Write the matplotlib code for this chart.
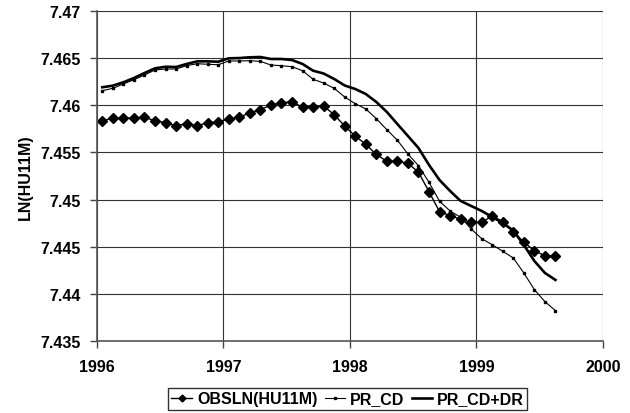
import numpy as np
import matplotlib
matplotlib.use("Agg")
import matplotlib.pyplot as plt

plt.rcParams['font.family'] = ['Liberation Sans', 'DejaVu Sans']
plt.rcParams['font.weight'] = 'bold'

# monthly observations, Jan 1996 .. Aug 1999 (plotted mid-month)
months = np.arange(44)
t = 1996 + (months + 0.5) / 12

obsln = [7.45836, 7.45862, 7.45862, 7.45868, 7.45872, 7.45836, 7.45815, 7.45783,
         7.45805, 7.45783, 7.45815, 7.45826, 7.45854, 7.45872, 7.45921, 7.45953,
         7.46003, 7.46027, 7.46038, 7.45979, 7.45985, 7.45992, 7.45900, 7.45780,
         7.45674, 7.45586, 7.45478, 7.45406, 7.45406, 7.45385, 7.45290, 7.45083,
         7.44871, 7.44829, 7.44791, 7.44759, 7.44759, 7.44826, 7.44765, 7.44659,
         7.44547, 7.44457, 7.44404, 7.44398]

pr_cd = [7.46155, 7.46180, 7.46226, 7.46271, 7.46321, 7.46374, 7.46385, 7.46385,
         7.46420, 7.46441, 7.46435, 7.46430, 7.46470, 7.46470, 7.46473, 7.46466,
         7.46427, 7.46420, 7.46409, 7.46367, 7.46276, 7.46236, 7.46180, 7.46088,
         7.46017, 7.45961, 7.45858, 7.45741, 7.45629, 7.45483, 7.45359, 7.45183,
         7.44982, 7.44879, 7.44812, 7.44688, 7.44585, 7.44521, 7.44451, 7.44380,
         7.44221, 7.44044, 7.43917, 7.43821]

pr_cd_dr = [7.46191, 7.46208, 7.46244, 7.46289, 7.46342, 7.46392, 7.46409, 7.46406,
            7.46438, 7.46466, 7.46466, 7.46462, 7.46498, 7.46501, 7.46509, 7.46512,
            7.46491, 7.46491, 7.46480, 7.46438, 7.46367, 7.46337, 7.46279, 7.46210,
            7.46173, 7.46120, 7.46035, 7.45929, 7.45801, 7.45674, 7.45547, 7.45367,
            7.45207, 7.45091, 7.44985, 7.44932, 7.44879, 7.44815, 7.44751, 7.44670,
            7.44518, 7.44348, 7.44221, 7.44147]

x_ticks = [1996, 1997, 1998, 1999, 2000]
y_ticks = [7.435, 7.44, 7.445, 7.45, 7.455, 7.46, 7.465, 7.47]
y_tick_labels = ['7.435', '7.44', '7.445', '7.45', '7.455', '7.46', '7.465', '7.47']

fig = plt.figure(figsize=(6.3, 4.14), dpi=100)
ax = fig.add_axes([0.154, 0.174, 0.803, 0.797])

ax.plot(t, obsln, color='black', lw=1.0, marker='D', ms=5, label='OBSLN(HU11M)')
ax.plot(t, pr_cd, color='black', lw=0.8, marker='s', ms=2, label='PR_CD')
ax.plot(t, pr_cd_dr, color='black', lw=1.9, label='PR_CD+DR')

ax.set_xlim(1996, 2000)
ax.set_ylim(7.435, 7.47)
ax.set_xticks(x_ticks)
ax.set_yticks(y_ticks)
ax.set_xticklabels([str(v) for v in x_ticks])
ax.set_yticklabels(y_tick_labels)
ax.tick_params(direction='out', length=5, width=1, labelsize=11.5, color='#444444')
ax.tick_params(axis='x', pad=8)
ax.tick_params(axis='y', pad=7)
ax.grid(True, color='#333333', lw=0.8)
ax.set_axisbelow(True)
for s in ['top', 'right']:
    ax.spines[s].set_visible(False)
for s in ['left', 'bottom']:
    ax.spines[s].set_color('#555555')
    ax.spines[s].set_linewidth(1.2)
ax.set_ylabel('LN(HU11M)', fontsize=11.5, fontweight='bold', labelpad=5)

leg = fig.legend(loc='center', bbox_to_anchor=(0.552, 0.034), ncol=3,
                 frameon=True, fancybox=False, edgecolor='black', fontsize=11.5,
                 handlelength=1.3, handletextpad=0.3, columnspacing=0.45,
                 borderpad=0.2, markerscale=0.7)
leg.get_frame().set_linewidth(1.0)

fig.savefig('out.png', dpi=100)
